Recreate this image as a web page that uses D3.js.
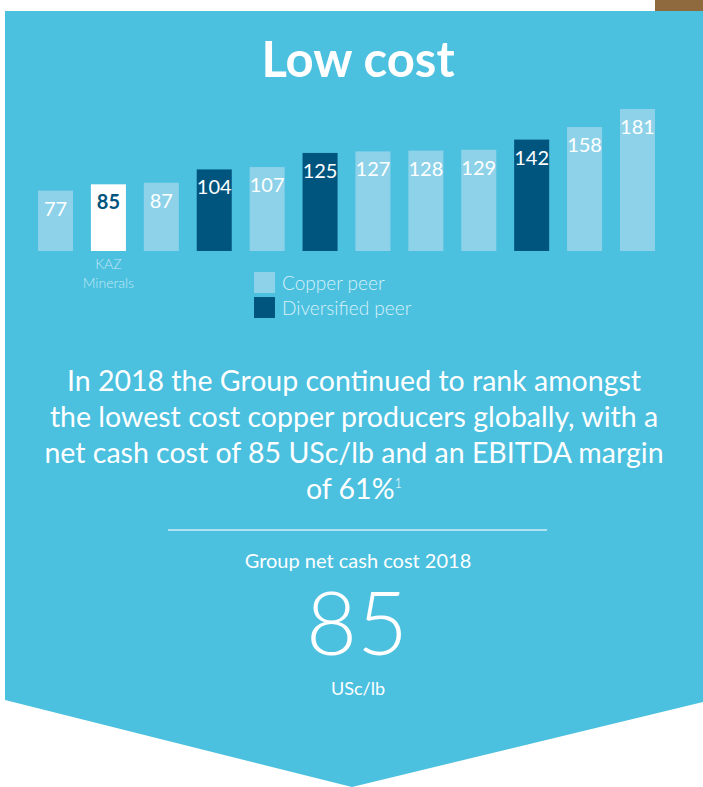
<!DOCTYPE html>
<html>
<head>
<meta charset="utf-8">
<script src="https://cdn.jsdelivr.net/npm/d3@7"></script>
<style>
  body { margin: 0; background: #fff; }
  svg { display: block; font-family: Lato, "Open Sans", sans-serif; }
</style>
</head>
<body>
<div id="chart"></div>
<script>
// chart values
const values = [77, 85, 87, 104, 107, 125, 127, 128, 129, 142, 158, 181]
const types = ["copper", "kaz", "copper", "diversified", "copper", "diversified",
               "copper", "copper", "copper", "diversified", "copper", "copper"]
const legendLabels = ["Copper peer", "Diversified peer"]
const legendTypes = ["copper", "diversified"]
const kazLabel = ["KAZ", "Minerals"]
const paragraph = [
    "In 2018 the Group continued to rank amongst",
    "the lowest cost copper producers globally, with a",
    "net cash cost of 85 USc/lb and an EBITDA margin",
    "of 61%"
]

const W = 703, H = 787
const panelBlue = "#4bc0df"
const colors = { copper: "#8dd2e9", diversified: "#00557f", kaz: "#ffffff" }

let svg = d3.select("#chart").append("svg")
    .attr("width", W)
    .attr("height", H)

// brown tab behind the panel, top right
svg.append("rect")
    .attr("x", 655).attr("y", 0)
    .attr("width", 48).attr("height", 20)
    .attr("fill", "#8f6a3f")

// panel with chevron bottom
svg.append("path")
    .attr("d", "M5,11 L703,11 L703,702 L352,787 L5,700 Z")
    .attr("fill", panelBlue)

svg.append("text")
    .attr("x", 358).attr("y", 77)
    .attr("text-anchor", "middle")
    .attr("fill", "#fff")
    .attr("font-size", 49)
    .attr("font-weight", 700)
    .text("Low cost")

let x = d3.scaleBand()
    .domain(d3.range(values.length))
    .range([38, 655])
    .paddingInner(0.338)
    .paddingOuter(0)

let y = d3.scaleLinear()
    .domain([0, 181])
    .range([251, 109])

let bars = svg.append("g")

bars.selectAll("rect")
    .data(values)
    .enter().append("rect")
    .attr("x", (d, i) => x(i))
    .attr("y", d => y(d))
    .attr("width", x.bandwidth())
    .attr("height", d => y(0) - y(d))
    .attr("fill", (d, i) => colors[types[i]])

bars.selectAll("text")
    .data(values)
    .enter().append("text")
    .attr("x", (d, i) => x(i) + x.bandwidth() / 2)
    .attr("y", d => y(d) + 25)
    .attr("text-anchor", "middle")
    .attr("font-size", 20)
    .attr("font-weight", (d, i) => types[i] == "kaz" ? 700 : 400)
    .attr("fill", (d, i) => types[i] == "kaz" ? colors.diversified : "#fff")
    .text(d => d)

let kazIndex = types.indexOf("kaz")
svg.append("g").selectAll("text")
    .data(kazLabel)
    .enter().append("text")
    .attr("x", x(kazIndex) + x.bandwidth() / 2)
    .attr("y", (d, i) => 269 + i * 19)
    .attr("text-anchor", "middle")
    .attr("font-size", 14)
    .attr("font-weight", 300)
    .attr("fill", "#c2e8f5")
    .text(d => d)

// legend
let legend = svg.append("g")
    .selectAll("g")
    .data(legendLabels)
    .enter().append("g")
    .attr("transform", (d, i) => `translate(254, ${272 + i * 25})`)

legend.append("rect")
    .attr("width", 21).attr("height", 21)
    .attr("fill", (d, i) => colors[legendTypes[i]])

legend.append("text")
    .attr("x", 28).attr("y", 18)
    .attr("font-size", 19)
    .attr("font-weight", 300)
    .attr("fill", "#d8f1f9")
    .text(d => d)

// paragraph
let para = svg.append("g")
para.selectAll("text")
    .data(paragraph)
    .enter().append("text")
    .attr("x", 354)
    .attr("y", (d, i) => 391 + i * 36)
    .attr("text-anchor", "middle")
    .attr("font-size", 28.5)
    .attr("fill", "#fff")
    .each(function(d, i) {
        let t = d3.select(this)
        t.append("tspan").text(d)
        if (i == paragraph.length - 1) {
            t.append("tspan").attr("dy", -11).attr("font-size", 13).attr("font-weight", 300).text("1")
        }
    })

svg.append("line")
    .attr("x1", 168).attr("x2", 547)
    .attr("y1", 530).attr("y2", 530)
    .attr("stroke", "#d0eef8")
    .attr("stroke-width", 1.5)

svg.append("text")
    .attr("x", 358).attr("y", 568)
    .attr("text-anchor", "middle")
    .attr("font-size", 20)
    .attr("fill", "#fff")
    .text("Group net cash cost 2018")

svg.append("text")
    .attr("x", 357).attr("y", 655)
    .attr("text-anchor", "middle")
    .attr("font-size", 88)
    .attr("font-weight", 300)
    .attr("fill", "#fff")
    .text(values[kazIndex])

svg.append("text")
    .attr("x", 358).attr("y", 695)
    .attr("text-anchor", "middle")
    .attr("font-size", 18)
    .attr("fill", "#fff")
    .text("USc/lb")
</script>
</body>
</html>
